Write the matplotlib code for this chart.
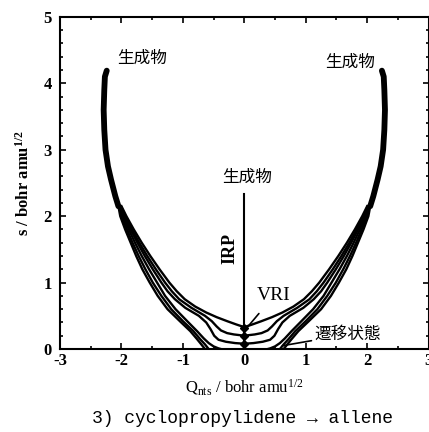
import matplotlib
matplotlib.use("Agg")
import matplotlib.pyplot as plt
from matplotlib.ticker import MultipleLocator

plt.rcParams['font.family'] = ['Liberation Serif', 'Noto Sans CJK JP', 'DejaVu Sans']
plt.rcParams['mathtext.fontset'] = 'custom'
plt.rcParams['mathtext.rm'] = 'Liberation Serif'
plt.rcParams['mathtext.it'] = 'Liberation Serif:italic'
plt.rcParams['mathtext.bf'] = 'Liberation Serif:bold'
plt.rcParams['axes.unicode_minus'] = False

# shared upper part of the trajectory bundle (left side, mirrored for the right)
trunk_q = [-2.24, -2.27, -2.28, -2.29, -2.28, -2.26, -2.22, -2.17, -2.10, -2.05]
trunk_s = [4.19, 4.10, 3.90, 3.60, 3.30, 3.00, 2.75, 2.55, 2.30, 2.15]

# lower branches, outermost first, as (s, q)
branch_1 = [(2.15, -2.05), (2.0, -2.02), (1.8, -1.94), (1.6, -1.85), (1.4, -1.76), (1.2, -1.66),
            (1.0, -1.54), (0.8, -1.41), (0.6, -1.25), (0.42, -1.05), (0.27, -0.88), (0.15, -0.77),
            (0.07, -0.70), (0.0, -0.64)]
branch_2 = [(2.15, -2.04), (2.0, -2.00), (1.8, -1.91), (1.6, -1.82), (1.4, -1.72), (1.2, -1.61),
            (1.0, -1.49), (0.8, -1.35), (0.6, -1.19), (0.42, -1.00), (0.27, -0.83), (0.15, -0.72),
            (0.07, -0.64), (0.0, -0.58)]
branch_3 = [(2.15, -2.03), (2.0, -1.98), (1.8, -1.88), (1.6, -1.78), (1.4, -1.67), (1.2, -1.55),
            (1.0, -1.42), (0.8, -1.29), (0.6, -1.12), (0.42, -0.93), (0.27, -0.77), (0.16, -0.66),
            (0.09, -0.58), (0.04, -0.50), (0.01, -0.42), (0.0, -0.38)]
branch_4 = [(2.15, -2.02), (2.0, -1.96), (1.8, -1.85), (1.6, -1.74), (1.4, -1.62), (1.2, -1.49),
            (1.0, -1.35), (0.87, -1.25), (0.75, -1.13), (0.62, -0.96), (0.5, -0.74), (0.4, -0.62),
            (0.3, -0.55), (0.2, -0.49), (0.14, -0.42), (0.11, -0.30), (0.09, -0.15), (0.08, 0.0)]
branch_5 = [(2.15, -2.01), (2.0, -1.94), (1.8, -1.83), (1.6, -1.71), (1.4, -1.58), (1.2, -1.44),
            (1.0, -1.29), (0.87, -1.18), (0.75, -1.06), (0.62, -0.86), (0.5, -0.64), (0.42, -0.53),
            (0.34, -0.45), (0.28, -0.38), (0.24, -0.28), (0.22, -0.17), (0.21, -0.08), (0.2, 0.0)]
branch_vri = [(2.15, -2.00), (2.0, -1.92), (1.8, -1.80), (1.6, -1.67), (1.4, -1.53), (1.2, -1.38),
              (1.0, -1.22), (0.87, -1.10), (0.75, -0.97), (0.64, -0.80), (0.55, -0.62),
              (0.48, -0.45), (0.42, -0.28), (0.37, -0.13), (0.33, 0.0)]
branches = [branch_1, branch_2, branch_3, branch_4, branch_5, branch_vri]

# reaction path along Q = 0 and the knots on it
irp_s = [0.0, 2.33]
knot_s = [0.32, 0.19, 0.07]

fig = plt.figure(figsize=(4.29, 4.32), dpi=100)
ax = fig.add_axes([0.140, 0.192, 0.859, 0.769])

for sign in (1, -1):
    ax.plot([sign * q for q in trunk_q], trunk_s, color='black', lw=4.2, solid_capstyle='round')
    for br in branches:
        s, q = zip(*br)
        ax.plot([sign * v for v in q], s, color='black', lw=1.7)

ax.plot([0, 0], irp_s, color='black', lw=1.5)
ax.plot([0] * len(knot_s), knot_s, 'D', color='black', ms=4)

ax.set_xlim(-3, 3)
ax.set_ylim(0, 5)
ax.xaxis.set_major_locator(MultipleLocator(1))
ax.xaxis.set_minor_locator(MultipleLocator(0.5))
ax.yaxis.set_major_locator(MultipleLocator(1))
ax.yaxis.set_minor_locator(MultipleLocator(0.2))
ax.tick_params(which='both', direction='in', top=True, right=True, width=1.2)
ax.tick_params(which='major', length=4, labelsize=12, pad=3)
ax.tick_params(axis='y', which='major', pad=6)
ax.tick_params(which='minor', length=2)
for lab in ax.get_xticklabels() + ax.get_yticklabels():
    lab.set_fontweight('bold')
for sp in ax.spines.values():
    sp.set_linewidth(1.5)

ax.set_xlabel(r'Q$_{\rm nts}$ / bohr amu$^{1/2}$', fontsize=12, labelpad=6)
ax.set_ylabel(r'$\mathbf{s}$ / bohr amu$^{\mathbf{1/2}}$', fontsize=12, fontweight='bold', labelpad=8)

jp = ['Noto Sans CJK JP', 'DejaVu Sans']
ax.text(-1.67, 4.38, '生成物', family=jp, fontsize=12, ha='center', va='center')
ax.text(1.73, 4.32, '生成物', family=jp, fontsize=12, ha='center', va='center')
ax.text(0.05, 2.59, '生成物', family=jp, fontsize=12, ha='center', va='center')
ax.text(-0.23, 1.52, 'IRP', fontsize=13, fontweight='bold', rotation=90, ha='center', va='center')
ax.annotate('VRI', xy=(0.06, 0.34), xytext=(0.48, 0.80), fontsize=14, ha='center', va='center',
            arrowprops=dict(arrowstyle='-', color='black', lw=1.2, shrinkA=6, shrinkB=0))
ax.annotate('遷移状態', xy=(0.62, 0.05), xytext=(1.68, 0.22), family=jp, fontsize=12,
            ha='center', va='center',
            arrowprops=dict(arrowstyle='-', color='black', lw=1.2, shrinkA=32, shrinkB=0))

fig.text(0.565, 0.012, '3) cyclopropylidene → allene', family=['Liberation Mono', 'DejaVu Sans Mono'],
         fontsize=13, ha='center', va='bottom')

fig.savefig('out.png', dpi=100)
